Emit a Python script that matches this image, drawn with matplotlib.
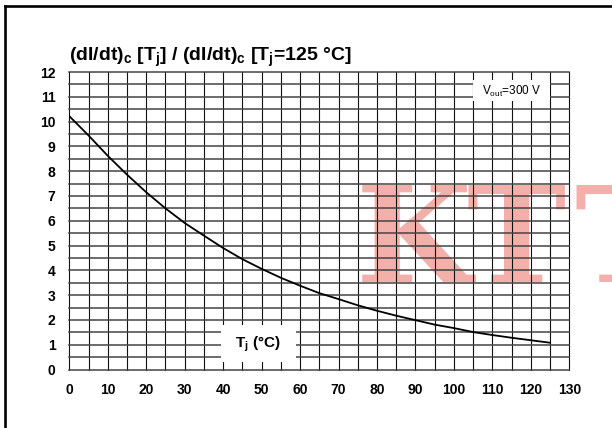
import numpy as np
import matplotlib
matplotlib.use("Agg")
import matplotlib.pyplot as plt
from matplotlib.lines import Line2D
from matplotlib.patches import Rectangle

# ---- data ----
tj = [0, 5, 10, 15, 20, 25, 30, 35, 40, 45, 50, 55, 60, 65, 70, 75, 80, 85, 90,
      95, 100, 105, 110, 115, 120, 125]
ratio = [10.22, 9.44, 8.62, 7.86, 7.15, 6.50, 5.91, 5.40, 4.90, 4.45, 4.06, 3.70,
         3.38, 3.08, 2.84, 2.59, 2.37, 2.17, 1.99, 1.81, 1.67, 1.51, 1.39, 1.28,
         1.18, 1.08]
x_ticks = list(range(0, 131, 10))
y_ticks = list(range(0, 13, 1))
title = r"(dI/dt)$_\mathbf{c}$ [T$_\mathbf{j}$] / (dI/dt)$_\mathbf{c}$ [T$_\mathbf{j}$=125 °C]"
x_label = r"T$_\mathbf{j}$ (°C)"
cond_label = r"V$_\mathregular{out}$=300 V"
watermark_letters = ["K", "T", "T"]
watermark_px = [356, 466, 574]

plt.rcParams['font.family'] = ['Liberation Sans', 'DejaVu Sans']
plt.rcParams['mathtext.fontset'] = 'custom'
plt.rcParams['mathtext.rm'] = 'Liberation Sans'
plt.rcParams['mathtext.bf'] = 'Liberation Sans:bold'
plt.rcParams['mathtext.it'] = 'Liberation Sans:italic'

W, H = 612, 428
fig = plt.figure(figsize=(W / 100, H / 100), dpi=100)
fig.patch.set_facecolor('white')

x0, x1 = 69.3, 569.3
y0, y1 = 369.5, 72.0
ax = fig.add_axes([x0 / W, 1 - y0 / H, (x1 - x0) / W, (y0 - y1) / H])
ax.set_xlim(0, 130)
ax.set_ylim(0, 12)
for s in ax.spines.values():
    s.set_visible(False)

# grid
for v in np.arange(0, 130.01, 5):
    ax.axvline(v, color='#111111', lw=0.8, clip_on=False, zorder=2)
for h in np.arange(0, 12.01, 0.5):
    ax.axhline(h, color='#444444', lw=1.1, clip_on=False, zorder=2)

# watermark
for letter, px in zip(watermark_letters, watermark_px):
    ax.text(px / W, 1 - 282 / H, letter, transform=fig.transFigure,
            fontsize=96, family='DejaVu Serif', fontweight='bold',
            color='#f3b0aa', ha='left', va='baseline', clip_on=False, zorder=1)

# curve
ax.plot(tj, ratio, color='black', lw=1.3, zorder=4)

# ticks
ax.set_xticks(x_ticks)
ax.set_yticks(y_ticks)
ax.tick_params(length=0, labelsize=10)
ax.tick_params(axis='x', pad=9.5)
ax.tick_params(axis='y', pad=10)
for lab in ax.get_xticklabels() + ax.get_yticklabels():
    lab.set_fontweight('bold')

# label boxes
ax.add_patch(Rectangle((39.4, 0.30), 59.0 - 39.4, 1.80 - 0.30,
                       facecolor='white', edgecolor='none', zorder=3))
ax.text(49.1, 1.03, x_label, fontsize=11, fontweight='bold',
        ha='center', va='center', zorder=5)
ax.add_patch(Rectangle((105.05, 10.82), 125.0 - 105.05, 11.67 - 10.82,
                       facecolor='white', edgecolor='none', zorder=3))
ax.text(114.9, 11.21, cond_label, fontsize=8.5, ha='center', va='center', zorder=5)

# title
fig.text(69 / W, 1 - 61 / H, title, fontsize=14, fontweight='bold',
         ha='left', va='baseline')

# outer frame (left and top)
fig.add_artist(Line2D([5 / W, 5 / W], [0, 1 - 6 / H], color='black', lw=1.9))
fig.add_artist(Line2D([5 / W, 1], [1 - 6 / H, 1 - 6 / H], color='black', lw=1.9))

fig.savefig('out.png', dpi=100)
